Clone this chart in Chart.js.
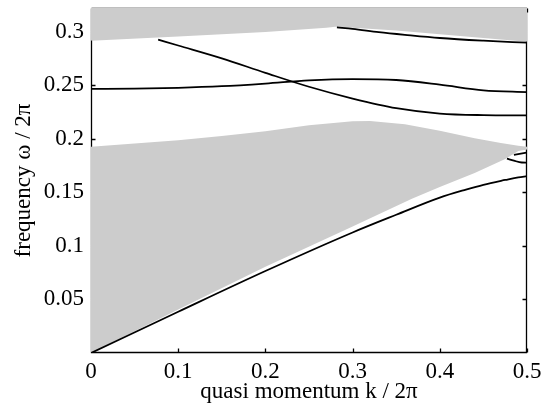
<!DOCTYPE html>
<html>
<head>
	<title>Band diagram</title>
	<script src="https://cdn.jsdelivr.net/npm/chart.js"></script>
	<style>body { margin: 0; background: #fff; }</style>
</head>
<body>
	<canvas id="myChart" width="549" height="411"></canvas>

	<script>
		// tick values and labels
		const xTicks = [0, 0.1, 0.2, 0.3, 0.4, 0.5];
		const xTickLabels = ['0', '0.1', '0.2', '0.3', '0.4', '0.5'];
		const yTicks = [0.05, 0.1, 0.15, 0.2, 0.25, 0.3];
		const yTickLabels = ['0.05', '0.1', '0.15', '0.2', '0.25', '0.3'];

		// grey region below: lower edge then upper edge (right to left)
		const lowerBandBottomK = [0, 0.1, 0.2, 0.3, 0.368, 0.4, 0.44, 0.475, 0.49, 0.5];
		const lowerBandBottomW = [0, 0.0405, 0.0805, 0.118, 0.144, 0.155, 0.168, 0.181, 0.1885, 0.19];
		const lowerBandTopK = [0.5, 0.49, 0.47, 0.44, 0.4, 0.36, 0.32, 0.3, 0.25, 0.2, 0.15, 0.1, 0.05, 0];
		const lowerBandTopW = [0.1925, 0.1935, 0.196, 0.2005, 0.2075, 0.2135, 0.2165, 0.2163, 0.2125, 0.207, 0.2025, 0.1985, 0.1955, 0.1925];

		// grey region above: its lower edge
		const upperBandK = [0, 0.1, 0.2, 0.27, 0.28, 0.3, 0.35, 0.4, 0.45, 0.5];
		const upperBandW = [0.2915, 0.2955, 0.2995, 0.3035, 0.3045, 0.3035, 0.301, 0.2975, 0.294, 0.2905];

		// bands (black lines)
		const band1K = [0, 0.1, 0.2, 0.3, 0.35, 0.4, 0.43, 0.45, 0.475, 0.49, 0.5];
		const band1W = [0, 0.0385, 0.0765, 0.1125, 0.129, 0.145, 0.1525, 0.157, 0.1615, 0.164, 0.165];
		const band2K = [0.477, 0.485, 0.494, 0.5];
		const band2W = [0.1814, 0.1795, 0.1778, 0.1777];
		const band3K = [0.485, 0.5];
		const band3W = [0.185, 0.187];
		const band4K = [0.077, 0.1, 0.15, 0.2, 0.25, 0.3, 0.35, 0.4, 0.45, 0.5];
		const band4W = [0.2925, 0.287, 0.275, 0.2615, 0.2485, 0.2375, 0.2285, 0.2235, 0.222, 0.2217];
		const band5K = [0, 0.05, 0.1, 0.15, 0.2, 0.25, 0.3, 0.35, 0.4, 0.45, 0.5];
		const band5W = [0.2465, 0.2467, 0.2475, 0.249, 0.2515, 0.2545, 0.2557, 0.2548, 0.2505, 0.2452, 0.2435];
		const band6K = [0.282, 0.3, 0.33, 0.36, 0.4, 0.45, 0.5];
		const band6W = [0.3039, 0.3025, 0.2995, 0.297, 0.294, 0.2915, 0.2896];
		const edgeK = [0, 0];
		const edgeW = [0.2915, 0.2465];

		const pts = (k, w) => k.map((v, i) => ({x: v, y: w[i]}));
		const grey = '#cccccc';

		function region(data, fill) {
			return {data: data, fill: fill, backgroundColor: grey, borderColor: 'rgba(0,0,0,0)',
				borderWidth: 0, pointRadius: 0, tension: 0, order: 2};
		}
		function band(data) {
			return {data: data, fill: false, borderColor: '#000', borderWidth: 1.8,
				pointRadius: 0, cubicInterpolationMode: 'monotone', order: 1};
		}

		// inward ticks and a box round the plot, drawn under the grey fills
		const axisBox = {
			id: 'axisBox',
			beforeDatasetsDraw(chart) {
				const {ctx, chartArea: a, scales: {x, y}} = chart;
				const L = Math.round(a.left) + 0.5, R = Math.round(a.right) - 0.5;
				const T = Math.round(a.top) + 0.5, B = Math.round(a.bottom) - 0.5;
				ctx.save();
				ctx.strokeStyle = '#000';
				ctx.lineWidth = 1.3;
				ctx.beginPath();
				ctx.moveTo(L, T); ctx.lineTo(L, B); ctx.lineTo(R, B); ctx.lineTo(R, T); ctx.lineTo(L, T);
				xTicks.forEach(v => {
					const px = Math.round(x.getPixelForValue(v)) + 0.5;
					ctx.moveTo(px, B); ctx.lineTo(px, B - 4);
					ctx.moveTo(px, T); ctx.lineTo(px, T + 4);
				});
				yTicks.forEach(v => {
					const py = Math.round(y.getPixelForValue(v)) + 0.5;
					ctx.moveTo(L, py); ctx.lineTo(L + 4, py);
					ctx.moveTo(R, py); ctx.lineTo(R - 4, py);
				});
				ctx.stroke();
				ctx.restore();
			}
		};

		const font = {family: 'Liberation Serif', size: 23};

		const ctx = document.getElementById('myChart').getContext('2d');
		const chart = new Chart(ctx, {
			type: 'line',
			data: {
				datasets: [
					band(pts(band1K, band1W)),
					band(pts(band2K, band2W)),
					band(pts(band3K, band3W)),
					band(pts(band4K, band4W)),
					band(pts(band5K, band5W)),
					band(pts(band6K, band6W)),
					band(pts(edgeK, edgeW)),
					region(pts(lowerBandBottomK, lowerBandBottomW).concat(pts(lowerBandTopK, lowerBandTopW)), 'shape'),
					region(pts(upperBandK, upperBandW), 'end')
				]
			},
			options: {
				responsive: false,
				animation: false,
				layout: {padding: {top: 8, right: 22, left: 0, bottom: 0}},
				plugins: {legend: {display: false}, tooltip: {enabled: false}},
				scales: {
					x: {
						type: 'linear', min: 0, max: 0.5,
						grid: {display: false, drawTicks: false},
						border: {display: false},
						afterBuildTicks: s => { s.ticks = xTicks.map(v => ({value: v})); },
						afterFit: s => { s.height = 58; s.paddingLeft = 0; s.paddingRight = 0; },
						ticks: {color: '#000', font: font, padding: 5, maxRotation: 0,
							callback: (v, i) => xTickLabels[i]},
						title: {display: true, text: 'quasi momentum k / 2π', color: '#000', font: font,
							padding: {top: 0, bottom: 5}}
					},
					y: {
						type: 'linear', min: 0, max: 0.322,
						grid: {display: false, drawTicks: false},
						border: {display: false},
						afterBuildTicks: s => { s.ticks = yTicks.map(v => ({value: v})); },
						afterFit: s => { s.width = 91; s.paddingTop = 0; s.paddingBottom = 0; },
						ticks: {color: '#000', font: font, padding: 7,
							callback: (v, i) => yTickLabels[i]},
						title: {display: true, text: 'frequency ω / 2π', color: '#000', font: font,
							padding: {top: 10, bottom: 0}}
					}
				}
			},
			plugins: [axisBox]
		});
	</script>
</body>
</html>
